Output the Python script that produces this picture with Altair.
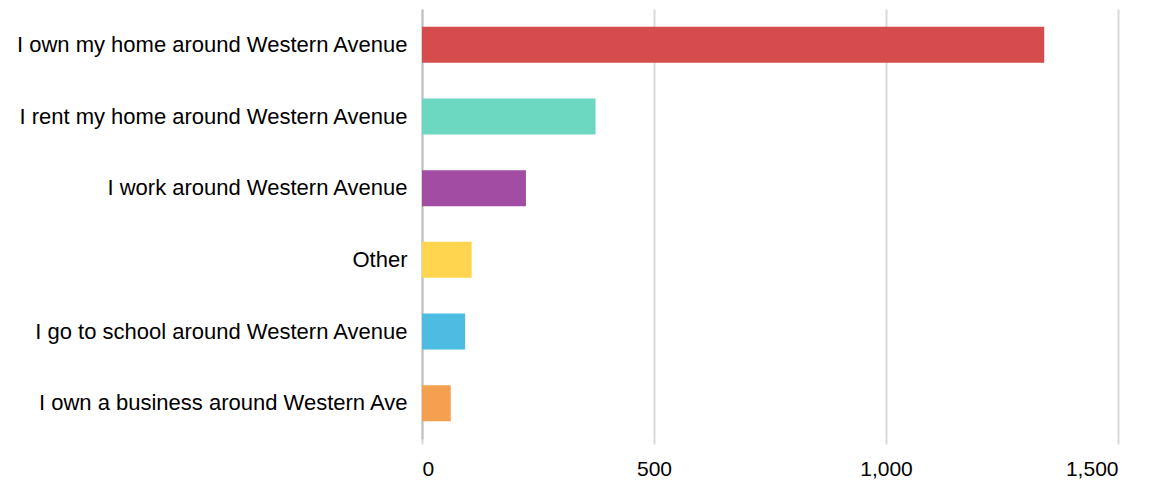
import altair as alt
import pandas as pd

categories = [
    "I own my home around Western Avenue",
    "I rent my home around Western Avenue",
    "I work around Western Avenue",
    "Other",
    "I go to school around Western Avenue",
    "I own a business around Western Ave",
]
counts = [1341, 374, 224, 107, 93, 62]
colors = ["#D64B4B", "#6CD8C1", "#A34CA3", "#FFD54F", "#4DBCE2", "#F5A050"]

df = pd.DataFrame({"category": categories, "count": counts})

FONT = "Liberation Sans, Arial, sans-serif"

chart = (
    alt.Chart(df)
    .mark_bar(size=36)
    .encode(
        x=alt.X(
            "count:Q",
            scale=alt.Scale(domain=[0, 1500], nice=False),
            axis=alt.Axis(
                values=[0, 500, 1000, 1500],
                format=",d",
                title=None,
                grid=True,
                gridColor="#d9d9d9",
                gridWidth=2,
                domain=False,
                ticks=True,
                tickColor="#d9d9d9",
                tickWidth=2,
                tickSize=5,
                labelPadding=14,
                labelFont=FONT,
                labelFontSize=21,
                labelColor="#000000",
            ),
        ),
        y=alt.Y(
            "category:N",
            sort=categories,
            axis=alt.Axis(
                title=None,
                ticks=False,
                domain=True,
                domainColor="#bfbfbf",
                domainWidth=2,
                labelPadding=15,
                labelFont=FONT,
                labelFontSize=22,
                labelColor="#000000",
                labelLimit=600,
            ),
        ),
        color=alt.Color(
            "category:N",
            scale=alt.Scale(domain=categories, range=colors),
            legend=None,
        ),
    )
    .properties(
        width=696,
        height=430,
        padding={"left": 7, "top": 1, "right": 5, "bottom": 5},
    )
    .configure_view(stroke=None)
)

chart.save("out.html", embed_options={"renderer": "svg", "actions": False})
